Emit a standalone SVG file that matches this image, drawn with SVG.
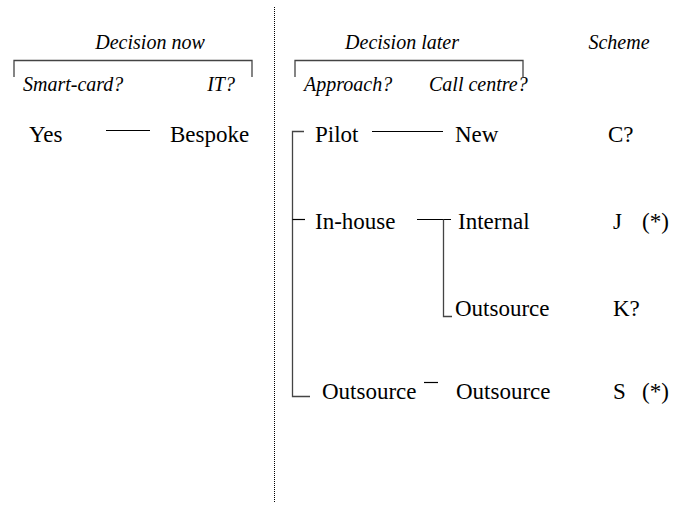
<svg xmlns="http://www.w3.org/2000/svg" width="677" height="506" viewBox="0 0 677 506">
<style>
.n{font-size:23px}
.i{font-size:20px;font-style:italic}
.ln{stroke:#000;stroke-width:1.2;fill:none}
.br{stroke:#444;stroke-width:1.3;fill:none}
.dot{stroke:#000;stroke-width:1;stroke-dasharray:1,1}
</style>
<rect width="677" height="506" fill="#fff"/>
<line class="dot" x1="274.5" y1="7" x2="274.5" y2="503"/>
<g font-family="Liberation Serif, Times New Roman, serif" fill="#000">
<g id="headers">
<text class="i" x="150" y="49" text-anchor="middle">Decision now</text>
<text class="i" x="402" y="49" text-anchor="middle">Decision later</text>
<text class="i" x="619" y="49" text-anchor="middle">Scheme</text>
<text class="i" x="23" y="91">Smart-card?</text>
<text class="i" x="235" y="91" text-anchor="end">IT?</text>
<text class="i" x="304" y="91">Approach?</text>
<text class="i" x="429" y="91">Call centre?</text>
</g>
<g id="n-yes"><text class="n" x="29" y="142">Yes</text></g>
<g id="n-bespoke"><text class="n" x="170" y="142">Bespoke</text></g>
<g id="n-pilot"><text class="n" x="315" y="142">Pilot</text></g>
<g id="n-new"><text class="n" x="455" y="142">New</text></g>
<g id="n-c"><text class="n" x="608" y="142">C?</text></g>
<g id="n-inhouse"><text class="n" x="315" y="229">In-house</text></g>
<g id="n-internal"><text class="n" x="458" y="229">Internal</text></g>
<g id="n-j"><text class="n" x="613" y="229">J</text><text class="n" x="642" y="229">(*)</text></g>
<g id="n-outsource2"><text class="n" x="455" y="316">Outsource</text></g>
<g id="n-k"><text class="n" x="613" y="316">K?</text></g>
<g id="n-outsource1"><text class="n" x="322" y="399">Outsource</text></g>
<g id="n-outsource3"><text class="n" x="456" y="399">Outsource</text></g>
<g id="n-s"><text class="n" x="613" y="399">S</text><text class="n" x="642" y="399">(*)</text></g>
</g>
<path class="br" d="M14,77 V60.5 H252 V77"/>
<path class="br" d="M295,77 V60.5 H523 V77"/>
<g id="connectors">
<line class="ln" x1="106" y1="130.5" x2="150" y2="130.5"/>
<path class="br" d="M304,131.5 H292.5 V396.5 H310"/>
<line class="ln" x1="292.5" y1="219.5" x2="305" y2="219.5"/>
<line class="ln" x1="372" y1="131.5" x2="443" y2="131.5"/>
<line class="ln" x1="417" y1="219.5" x2="451" y2="219.5"/>
<path class="br" d="M443.5,219.5 V316.5 H452"/>
<line class="ln" x1="424" y1="382.5" x2="438" y2="382.5"/>
</g>
</svg>
